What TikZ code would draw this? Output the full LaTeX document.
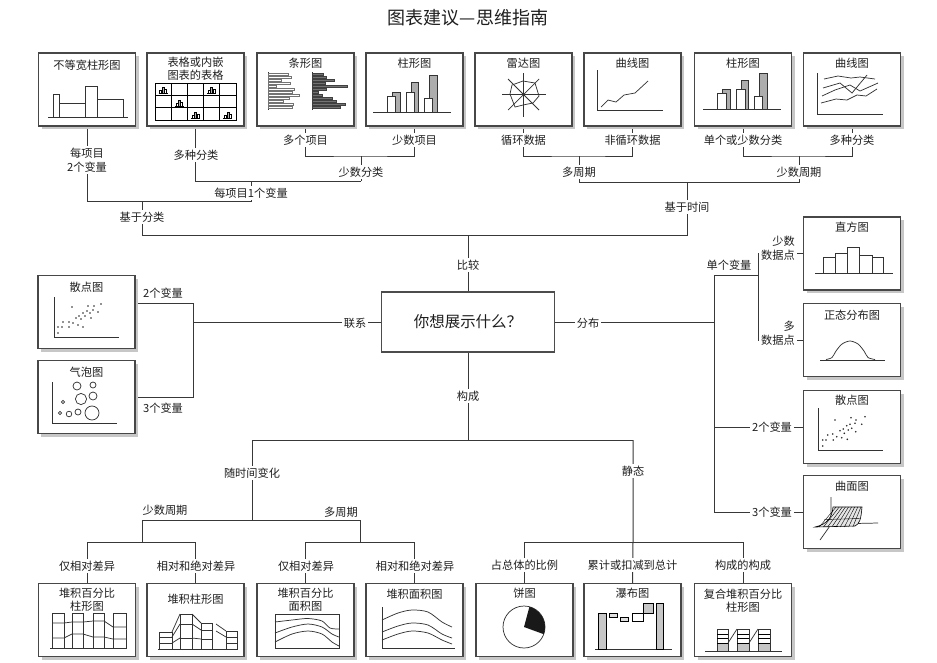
\documentclass[tikz,border=0pt]{standalone}
\usepackage{fontspec}
\setmainfont{Noto Sans CJK SC}
\usetikzlibrary{shadows,backgrounds}

\begin{document}
\begin{tikzpicture}[x=0.75pt,y=-0.75pt,
  every node/.style={font=\fontsize{8.4}{10}\selectfont, text=black!88},
  chart/.style={draw=black!72, line width=0.9pt, fill=white, minimum width=72.75pt,
    minimum height=54.75pt, inner sep=0pt,
    general shadow={fill=black!22, shadow xshift=2.6pt, shadow yshift=-2.6pt}},
  hub/.style={draw=black!70, line width=0.8pt, fill=white, minimum width=129.75pt,
    minimum height=45pt, inner sep=0pt, font=\fontsize{11.6}{13}\selectfont},
  ttl/.style={inner sep=0pt, align=center, font=\fontsize{8.4}{9.8}\selectfont},
  lbl/.style={fill=white, inner sep=1.5pt, align=center, font=\fontsize{8.4}{10.2}\selectfont},
  link/.style={draw=black!78, line width=0.75pt},
  ink/.style={line width=0.55pt, draw=black!80},
  barw/.style={line width=0.5pt, draw=black!80, fill=white},
  barg/.style={line width=0.5pt, draw=black!80, fill=black!32},
  minibar/.pic={
    \draw[line width=0.4pt] (0,0) -- (9,0);
    \draw[line width=0.4pt] (1.2,0) rectangle (3.2,-3);
    \draw[line width=0.4pt,fill=black!30] (3.6,0) rectangle (5.6,-6);
    \draw[line width=0.4pt] (6,0) rectangle (8,-4);
  }
]
\useasboundingbox (0,0) rectangle (937,662);

% ---------- title ----------
\node[font=\fontsize{13.5}{15}\selectfont] (title) at (468,18) {图表建议—思维指南};

% ---------- central question ----------
\node[hub] (q) at (468,322) {你想展示什么？};

% ---------- chart boxes: top row ----------
\node[chart] (t1) at (87,89.5) {};
\node[chart] (t2) at (195.5,89.5) {};
\node[chart] (t3) at (305.5,89.5) {};
\node[chart] (t4) at (414.5,89.5) {};
\node[chart] (t5) at (523.5,89.5) {};
\node[chart] (t6) at (632.5,89.5) {};
\node[chart] (t7) at (743,89.5) {};
\node[chart] (t8) at (852,89.5) {};
% left column
\node[chart] (L1) at (86.5,312) {};
\node[chart] (L2) at (86.5,397) {};
% right column
\node[chart] (R1) at (852,253.5) {};
\node[chart] (R2) at (852,340) {};
\node[chart] (R3) at (852,427) {};
\node[chart] (R4) at (852,512) {};
% bottom row
\node[chart] (b1) at (87,620) {};
\node[chart] (b2) at (195.5,620) {};
\node[chart] (b3) at (305.5,620) {};
\node[chart] (b4) at (414.5,620) {};
\node[chart] (b5) at (524.5,620) {};
\node[chart] (b6) at (632.5,620) {};
\node[chart] (b7) at (743,620) {};

% ---------- box titles ----------
\node[ttl] (t1n) at (87,65) {不等宽柱形图};
\node[ttl] (t2n) at (195.5,68.5) {表格或内嵌\\图表的表格};
\node[ttl] (t3n) at (305.5,63) {条形图};
\node[ttl] (t4n) at (414.5,63) {柱形图};
\node[ttl] (t5n) at (523.5,63) {雷达图};
\node[ttl] (t6n) at (632.5,63) {曲线图};
\node[ttl] (t7n) at (743,63) {柱形图};
\node[ttl] (t8n) at (852,63) {曲线图};
\node[ttl] (L1n) at (86.5,287) {散点图};
\node[ttl] (L2n) at (86.5,372) {气泡图};
\node[ttl] (R1n) at (852,227) {直方图};
\node[ttl] (R2n) at (852,315) {正态分布图};
\node[ttl] (R3n) at (852,400) {散点图};
\node[ttl] (R4n) at (852,486) {曲面图};
\node[ttl] (b1n) at (87,600) {堆积百分比\\柱形图};
\node[ttl] (b2n) at (195.5,599) {堆积柱形图};
\node[ttl] (b3n) at (305.5,600) {堆积百分比\\面积图};
\node[ttl] (b4n) at (414.5,594) {堆积面积图};
\node[ttl] (b5n) at (524.5,593) {饼图};
\node[ttl] (b6n) at (632.5,593) {瀑布图};
\node[ttl] (b7n) at (743,601) {复合堆积百分比\\柱形图};

% ---------- branch labels ----------
\node[lbl] (l1) at (87,160) {每项目\\2个变量};
\node[lbl] (l2) at (196,155) {多种分类};
\node[lbl] (l3) at (305.5,140) {多个项目};
\node[lbl] (l4) at (414.5,140) {少数项目};
\node[lbl] (l5) at (523.5,140) {循环数据};
\node[lbl] (l6) at (632.5,140) {非循环数据};
\node[lbl] (l7) at (743,140) {单个或少数分类};
\node[lbl] (l8) at (852,140) {多种分类};
\node[lbl] (lsc) at (361,172) {少数分类};
\node[lbl] (lone) at (251,193) {每项目1个变量};
\node[lbl] (lcat) at (142,217) {基于分类};
\node[lbl] (lmp) at (579,172) {多周期};
\node[lbl] (lfp) at (799,172) {少数周期};
\node[lbl] (ltm) at (687,207) {基于时间};
\node[lbl] (lcmp) at (468,265) {比较};
\node[lbl] (lrel) at (355,323) {联系};
\node[lbl] (l2v) at (163,293) {2个变量};
\node[lbl] (l3v) at (163,408) {3个变量};
\node[lbl] (ldist) at (588,323) {分布};
\node[lbl] (lsingle) at (729,265) {单个变量};
\node[lbl, anchor=east, align=right] (lfew) at (797,248) {少数\\数据点};
\node[lbl, anchor=east, align=right] (lmany) at (797,333) {多\\数据点};
\node[lbl] (lr2) at (772,427) {2个变量};
\node[lbl] (lr3) at (772,512) {3个变量};
\node[lbl] (lcomp) at (468,396) {构成};
\node[lbl] (ltime) at (252,473) {随时间变化};
\node[lbl] (lstat) at (633,471) {静态};
\node[lbl] (lbfp) at (165,510) {少数周期};
\node[lbl] (lbmp) at (341,512) {多周期};
\node[lbl] (lb1) at (87,566) {仅相对差异};
\node[lbl] (lb2) at (196,566) {相对和绝对差异};
\node[lbl] (lb3) at (306,566) {仅相对差异};
\node[lbl] (lb4) at (415,566) {相对和绝对差异};
\node[lbl] (lb5) at (524.5,565) {占总体的比例};
\node[lbl] (lb6) at (632.5,565) {累计或扣减到总计};
\node[lbl] (lb7) at (743,565) {构成的构成};

% ---------- junction points ----------
\coordinate (jA) at (251,181);
\coordinate (jB) at (251,201);
\coordinate (jC) at (142,201);
\coordinate (jD) at (142,235);
\coordinate (j34) at (361,156);
\coordinate (jsc) at (361,181);
\coordinate (jCmp) at (468,235);
\coordinate (j56) at (579,156);
\coordinate (jmp) at (579,182);
\coordinate (j78) at (799,156);
\coordinate (jT) at (687,182);
\coordinate (jL1) at (193,303);
\coordinate (jL2) at (193,397);
\coordinate (jL) at (193,322);
\coordinate (jR) at (714,322);
\coordinate (jR1) at (714,275);
\coordinate (jS) at (758,275);
\coordinate (jS1) at (758,253.5);
\coordinate (jS2) at (758,340);
\coordinate (jB0) at (468,440);
\coordinate (jTime) at (252,440);
\coordinate (jStat) at (633,440);
\coordinate (jTime2) at (252,520);
\coordinate (jF) at (142,520);
\coordinate (jM) at (360,520);
\coordinate (jF2) at (142,542);
\coordinate (jM2) at (360,542);
\coordinate (jStat2) at (633,542);

% ---------- connectors (behind boxes and labels) ----------
\begin{scope}[on background layer]
  \fill[white] (0,0) rectangle (937,662);
  % comparison tree
  \draw[link] (t1.south) |- (jB) -- (jA);
  \draw[link] (t2.south) |- (jsc);
  \draw[link] (t3.south) |- (j34) -| (t4.south);
  \draw[link] (j34) -- (jsc);
  \draw[link] (jC) -- (jD) -| (jT);
  \draw[link] (jCmp) -- (q.north);
  \draw[link] (t5.south) |- (j56) -| (t6.south);
  \draw[link] (t7.south) |- (j78) -| (t8.south);
  \draw[link] (j56) -- (jmp) -| (j78);
  % relationship tree
  \draw[link] (L1.east |- jL1) -- (jL1) -- (jL2) -- (L2.east |- jL2);
  \draw[link] (jL) -- (q.west);
  % distribution tree
  \draw[link] (q.east) -- (jR);
  \draw[link] (jR1) |- (R4.west);
  \draw[link] (jR1) -- (jS);
  \draw[link] (jR1 |- R3.west) -- (R3.west);
  \draw[link] (R1.west) -- (jS1) -- (jS2) -- (R2.west);
  % composition tree
  \draw[link] (q.south) -- (jB0);
  \draw[link] (jTime) -- (jStat);
  \draw[link] (jTime) -- (jTime2);
  \draw[link] (jF) -- (jM);
  \draw[link] (jF) -- (jF2);
  \draw[link] (jM) -- (jM2);
  \draw[link] (b1.north) |- (jF2) -| (b2.north);
  \draw[link] (b3.north) |- (jM2) -| (b4.north);
  \draw[link] (jStat) -- (jStat2) -- (b6.north);
  \draw[link] (b5.north) |- (jStat2) -| (b7.north);
\end{scope}

% ---------- icons ----------
% variable width column chart
\draw[ink] (48,117) -- (128,117);
\draw[ink] (53,117) rectangle (59,94);
\draw[ink] (59,117) rectangle (85,103);
\draw[ink] (85,117) rectangle (97,86);
\draw[ink] (97,117) rectangle (123,99);

% table with embedded charts
\draw[line width=0.5pt] (155,83) rectangle (236,120);
\foreach \k in {1,...,4} {\draw[line width=0.5pt] (155+16.2*\k,83) -- (155+16.2*\k,120);}
\foreach \k in {1,2} {\draw[line width=0.5pt] (155,83+12.33*\k) -- (236,83+12.33*\k);}
\pic at (158.5,93.5) {minibar};
\pic at (207.1,93.5) {minibar};
\pic at (174.7,105.8) {minibar};
\pic at (190.9,118.2) {minibar};
\pic at (223.3,118.2) {minibar};

% bar charts
\draw[ink] (268,72) -- (268,110);
\draw[ink] (312,72) -- (312,110);
\foreach \l [count=\i from 0] in {20,23,13,22,8,26,24,31,21,15,25,24}
  {\draw[draw=black!55, line width=0.45pt] (268,73.5+3*\i) rectangle (268+\l,75.3+3*\i);}
\foreach \l [count=\i from 0] in {11,14,22,13,35,14,6,10,20,24,33,28}
  {\draw[draw=black!75, fill=black!55, line width=0.4pt] (312,73.5+3*\i) rectangle (312+\l,75.3+3*\i);}

% column chart (few items)
\draw[barg] (392,112) rectangle (400,92);
\draw[barw] (387,112) rectangle (395,96);
\draw[barg] (411,112) rectangle (418,82);
\draw[barw] (406,112) rectangle (414,92);
\draw[barg] (429,112) rectangle (437,75);
\draw[barw] (424,112) rectangle (432,98);
\draw[ink] (373,112) -- (451,112);

% radar chart
\draw[ink] (523,73) -- (523,117);
\draw[ink] (502,94) -- (546,94);
\draw[ink] (508,79) -- (539,110);
\draw[ink] (539,79) -- (508,110);
\draw[ink] (523,81) -- (535,83) -- (539,96) -- (533,103) -- (523,105) -- (515,107) -- (510,94) -- (512,85) -- cycle;

% line chart (one series)
\draw[ink] (597,70) -- (597,110) -- (663,110);
\draw[ink] (601,107) -- (608,100) -- (616,102) -- (624,95) -- (635,93) -- (648,81);

% column chart (single or few categories)
\draw[barg] (722,109) rectangle (730,89);
\draw[barw] (717,109) rectangle (726,93);
\draw[barg] (741,109) rectangle (748,80);
\draw[barw] (736,109) rectangle (745,89);
\draw[barg] (759,109) rectangle (767,73);
\draw[barw] (754,109) rectangle (762,96);
\draw[ink] (703,109) -- (781,109);

% line chart (many series)
\draw[ink] (817,73) -- (817,114) -- (883,114);
\draw[ink] (824,79) -- (838,76) -- (851,78) -- (860,77) -- (875,79);
\draw[ink] (823,88) -- (840,83) -- (852,93) -- (867,75);
\draw[ink] (822,96) -- (835,90) -- (850,85) -- (860,91) -- (878,83);
\draw[ink] (821,103) -- (836,99) -- (847,100) -- (857,95) -- (866,96) -- (877,89);

% scatter plot (left)
\draw[ink] (54,297) -- (54,337) -- (119,337);
\foreach \p in {(58,333),(58,327),(62,327),(63,322),(69,327),(69,322),(72,307),(73,323),
  (76,318),(78,325),(79,316),(81,319),(83,327),(83,313),(85,316),(87,311),(88,306),
  (90,313),(91,318),(93,310),(94,306),(98,312),(101,304)}
  {\fill[black!85] \p circle[radius=0.9];}

% bubble chart
\draw[ink] (52,382) -- (52,423) -- (117,423);
\draw[ink] (63,402) circle[radius=1.6];
\draw[ink] (60,413) circle[radius=1.6];
\draw[ink] (69,414) circle[radius=2.8];
\draw[ink] (78,412) circle[radius=3];
\draw[ink] (77,386) circle[radius=4];
\draw[ink] (93,385) circle[radius=3];
\draw[ink] (81,399) circle[radius=5.6];
\draw[ink] (93,396) circle[radius=4];
\draw[ink] (92,413) circle[radius=7];

% histogram
\draw[ink] (823,273) rectangle (835,257);
\draw[ink] (835,273) rectangle (847,253);
\draw[ink] (847,273) rectangle (859,247);
\draw[ink] (859,273) rectangle (872,255);
\draw[ink] (872,273) rectangle (883,257);
\draw[ink] (815,273) -- (893,273);

% normal distribution
\draw[ink] (820,360) -- (885,360);
\draw[ink] plot[smooth] coordinates {(826,359.5) (832,357.5) (836,351) (842,344) (850,341) (858,344) (864,351) (868,357.5) (875,359.5)};

% scatter plot (right)
\draw[ink] (818,408) -- (818,450) -- (883,450);
\foreach \p in {(822.7,446),(822.7,440),(826,440),(827.7,435),(832.7,434),(833.3,440),
  (835,420),(836.7,436.7),(840,430.7),(841.7,437.7),(843.3,429),(844.3,433.3),
  (846.7,425.7),(847.3,439.3),(848.3,430),(850,424.3),(851,417.7),(851.7,428.3),
  (855,423.3),(855.7,431.7),(856,420),(861.7,424.3),(865,416.7)}
  {\fill[black!85] \p circle[radius=0.9];}

% surface chart
\draw[ink] (831,497) -- (831,524) -- (878,523);
\draw[ink] (832,523) -- (820,540);
\draw[line width=0.45pt, fill=black!10] (815,527) -- (855,526) .. controls (860,524) and (861,518) .. (862,507)
  -- (833,507) .. controls (832,517) and (828,524) .. cycle;
\foreach \i in {1,...,9} {\draw[line width=0.3pt] (815+4.2*\i,527) -- (833+3.1*\i,507);}
\draw[line width=0.3pt] (824,519.5) -- (860,518.5);

% stacked percentage column chart
\foreach \a/\b in {52/64,72/83,93/104,113/126} {\draw[ink] (\a,648) rectangle (\b,613);}
\draw[ink] (52,623) -- (64,623) -- (72,622) -- (83,622) -- (93,621) -- (104,621) -- (113,627) -- (126,627);
\draw[ink] (52,638) -- (64,638) -- (72,634) -- (83,634) -- (93,637) -- (104,637) -- (113,639) -- (126,639);
\draw[ink] (50,648) -- (127,648);

% stacked column chart
\draw[ink] (159,649) rectangle (172,632);
\draw[ink] (159,637) -- (172,637); \draw[ink] (159,643) -- (172,643);
\draw[ink] (180,649) rectangle (192,614);
\draw[ink] (180,624) -- (192,624); \draw[ink] (180,638) -- (192,638);
\draw[ink] (201,649) rectangle (212,623);
\draw[ink] (201,630) -- (212,630); \draw[ink] (201,639) -- (212,639);
\draw[ink] (226,649) rectangle (237,631);
\draw[ink] (226,637) -- (237,637); \draw[ink] (226,643) -- (237,643);
\draw[ink] (172,632) -- (180,614); \draw[ink] (172,637) -- (180,624); \draw[ink] (172,643) -- (180,638);
\draw[ink] (192,614) -- (201,623); \draw[ink] (192,624) -- (201,630); \draw[ink] (192,638) -- (201,639);
\draw[ink] (216,624) -- (226,631); \draw[ink] (216,631) -- (226,637);
\draw[ink] (158,649) -- (238,649);

% stacked percentage area chart
\draw[ink] (275,614) rectangle (339,648);
\draw[ink] plot[smooth] coordinates {(275,622) (292,620) (308,618.5) (322,621) (330,628) (339,629)};
\draw[ink] plot[smooth] coordinates {(275,633) (292,627) (308,624) (322,627) (332,634) (339,637)};
\draw[ink] plot[smooth] coordinates {(275,642) (292,634) (308,631) (322,634) (332,642) (339,646)};

% stacked area chart
\draw[ink] (382,607) -- (382,648) -- (455,648);
\draw[ink] plot[smooth] coordinates {(382,620) (398,613) (412,610) (428,612) (442,622) (452,627)};
\draw[ink] plot[smooth] coordinates {(382,632) (398,626) (412,623) (428,625) (442,634) (452,638)};
\draw[ink] plot[smooth] coordinates {(382,640) (398,634) (412,631) (428,633) (442,640) (452,644)};

% pie chart
\draw[ink, fill=white] (524,627) circle[radius=21];
\fill[black!90] (524,627) -- ++(-75:21) arc[start angle=-75, end angle=20, radius=21] -- cycle;

% waterfall chart
\draw[ink] (595,649) -- (672,649);
\draw[line width=0.5pt, fill=black!22] (598,649) rectangle (606,613);
\draw[line width=0.5pt, fill=black!12] (609,613) rectangle (617,617);
\draw[line width=0.5pt, fill=black!12] (620,617) rectangle (628,621);
\draw[line width=0.5pt, fill=white] (632,613) rectangle (643,621);
\draw[line width=0.5pt, fill=black!22] (643,603) rectangle (653,613);
\draw[line width=0.5pt, fill=black!22] (656,649) rectangle (663,603);

% composite stacked percentage column chart
\foreach \a/\b in {717/728,737/749,758/770} {
  \draw[line width=0.5pt, fill=black!22] (\a,651) rectangle (\b,643);
  \draw[ink] (\a,651) rectangle (\b,629);
  \draw[line width=0.4pt] (\a,634) -- (\b,634);
  \draw[line width=0.4pt] (\a,638) -- (\b,638);
  \draw[line width=0.4pt] (\a,643) -- (\b,643);
}
\draw[ink] (728,643) -- (737,629);
\draw[ink] (749,643) -- (758,629);
\draw[ink] (705,651) -- (782,651);
\end{tikzpicture}
\end{document}
